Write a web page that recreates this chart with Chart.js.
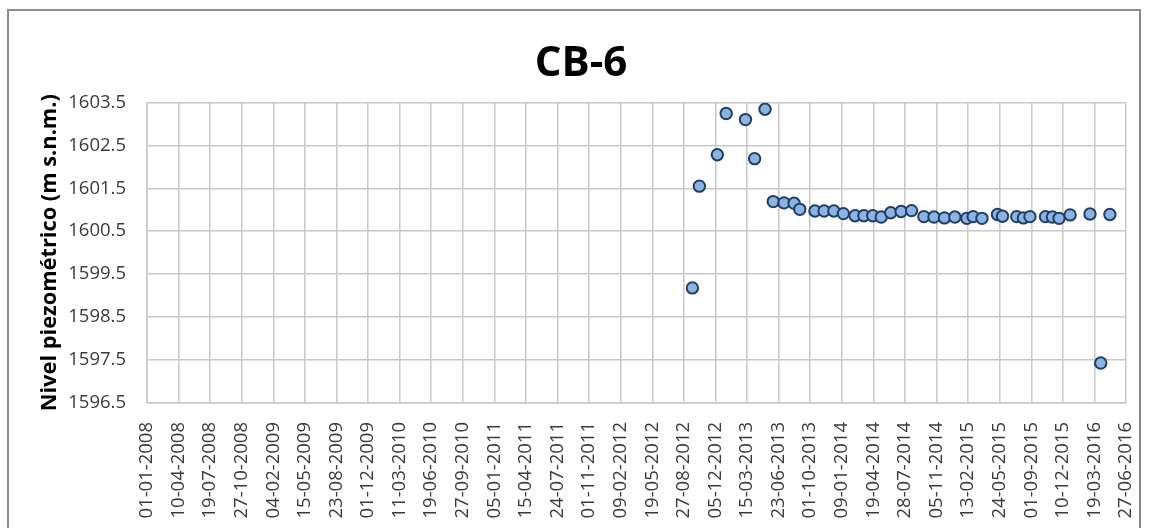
<!DOCTYPE html>
<html>
<head>
<meta charset="utf-8">
<script src="https://cdn.jsdelivr.net/npm/chart.js@4.4.1/dist/chart.umd.min.js"></script>
<style>
  html, body { margin: 0; padding: 0; background: #ffffff; }
  #wrap { position: relative; width: 1150px; height: 528px; }
  #frame { position: absolute; left: 7px; top: 9px; width: 1134px; height: 540px; border: 2px solid #8c8c8c; pointer-events: none; box-sizing: border-box; }
</style>
</head>
<body>
<div id="wrap">
  <canvas id="c" width="1150" height="528"></canvas>
  <div id="frame"></div>
</div>
<script>
// ---- data ----
const chartTitle = "CB-6";
const yAxisTitle = "Nivel piezométrico (m s.n.m.)";
const startDate = "2008-01-01";
const measureDates = [
  "2012-09-23","2012-10-15","2012-12-11","2013-01-08","2013-03-10","2013-04-08","2013-05-11",
  "2013-06-06","2013-07-10","2013-08-11","2013-08-29","2013-10-16","2013-11-14","2013-12-15",
  "2014-01-14","2014-02-20","2014-03-20","2014-04-17","2014-05-14","2014-06-13","2014-07-16",
  "2014-08-18","2014-09-26","2014-10-28","2014-11-30","2015-01-02","2015-02-09","2015-03-01",
  "2015-03-29","2015-05-17","2015-06-02","2015-07-17","2015-08-07","2015-08-28","2015-10-16",
  "2015-11-07","2015-11-28","2016-01-02","2016-03-05","2016-04-08","2016-05-07"
];
const levels = [
  1599.18,1601.55,1602.28,1603.24,1603.10,1602.19,1603.34,
  1601.19,1601.16,1601.15,1601.01,1600.97,1600.97,1600.97,
  1600.91,1600.86,1600.86,1600.86,1600.83,1600.93,1600.96,
  1600.98,1600.84,1600.83,1600.81,1600.83,1600.80,1600.84,
  1600.80,1600.89,1600.85,1600.84,1600.81,1600.84,1600.84,
  1600.83,1600.80,1600.88,1600.90,1597.43,1600.89
];
const xTickLabels = [
  "01-01-2008","10-04-2008","19-07-2008","27-10-2008","04-02-2009","15-05-2009","23-08-2009",
  "01-12-2009","11-03-2010","19-06-2010","27-09-2010","05-01-2011","15-04-2011","24-07-2011",
  "01-11-2011","09-02-2012","19-05-2012","27-08-2012","05-12-2012","15-03-2013","23-06-2013",
  "01-10-2013","09-01-2014","19-04-2014","28-07-2014","05-11-2014","13-02-2015","24-05-2015",
  "01-09-2015","10-12-2015","19-03-2016","27-06-2016"
];
const xTickStepDays = 100;
const yTicks = [1596.5,1597.5,1598.5,1599.5,1600.5,1601.5,1602.5,1603.5];

// ---- helpers ----
function dayIndex(s) {
  const [y, m, d] = s.split("-").map(Number);
  const [y0, m0, d0] = startDate.split("-").map(Number);
  return Math.round((Date.UTC(y, m - 1, d) - Date.UTC(y0, m0 - 1, d0)) / 86400000);
}
const points = measureDates.map((d, i) => ({ x: dayIndex(d), y: levels[i] }));

const FONT = "'Open Sans', 'DejaVu Sans', sans-serif";
const gridColor = "#c8c8c8";

new Chart(document.getElementById("c"), {
  type: "scatter",
  data: {
    datasets: [{
      data: points,
      pointRadius: 5.7,
      pointHoverRadius: 5.7,
      pointBackgroundColor: "#8db3e2",
      pointBorderColor: "#1f3f66",
      pointBorderWidth: 2,
      showLine: false
    }]
  },
  options: {
    responsive: false,
    animation: false,
    devicePixelRatio: 1,
    layout: { padding: { top: 8, right: 24, bottom: 0, left: 36 } },
    plugins: {
      legend: { display: false },
      tooltip: { enabled: false },
      title: {
        display: true,
        text: chartTitle,
        color: "#000000",
        font: { family: FONT, size: 42, weight: "bold", lineHeight: 1.2 },
        padding: { top: 31, bottom: 13 }
      }
    },
    scales: {
      x: {
        type: "linear",
        min: 0,
        max: (xTickLabels.length - 1) * xTickStepDays,
        afterFit: (s) => { s.height = 125; s.paddingLeft = 0; s.paddingRight = 0; },
        grid: { color: gridColor, lineWidth: 1.5, drawTicks: false },
        border: { color: gridColor, width: 1.5 },
        ticks: {
          stepSize: xTickStepDays,
          autoSkip: false,
          minRotation: 90,
          maxRotation: 90,
          padding: 19,
          color: "#3a3a3a",
          font: { family: FONT, size: 18.5 },
          callback: (v, i) => xTickLabels[i]
        }
      },
      y: {
        type: "linear",
        min: yTicks[0],
        max: yTicks[yTicks.length - 1],
        afterFit: (s) => { s.width = 111; },
        grid: { color: gridColor, lineWidth: 1.5, drawTicks: false },
        border: { color: gridColor, width: 1.5 },
        ticks: {
          stepSize: 1,
          padding: 21,
          color: "#3a3a3a",
          font: { family: FONT, size: 18.5 },
          callback: (v, i) => yTicks[i].toFixed(1)
        },
        title: {
          display: true,
          text: yAxisTitle,
          color: "#000000",
          font: { family: FONT, size: 21.8, weight: "bold", lineHeight: 1.2 },
          padding: { top: 1, bottom: 0 }
        }
      }
    }
  }
});
</script>
</body>
</html>
